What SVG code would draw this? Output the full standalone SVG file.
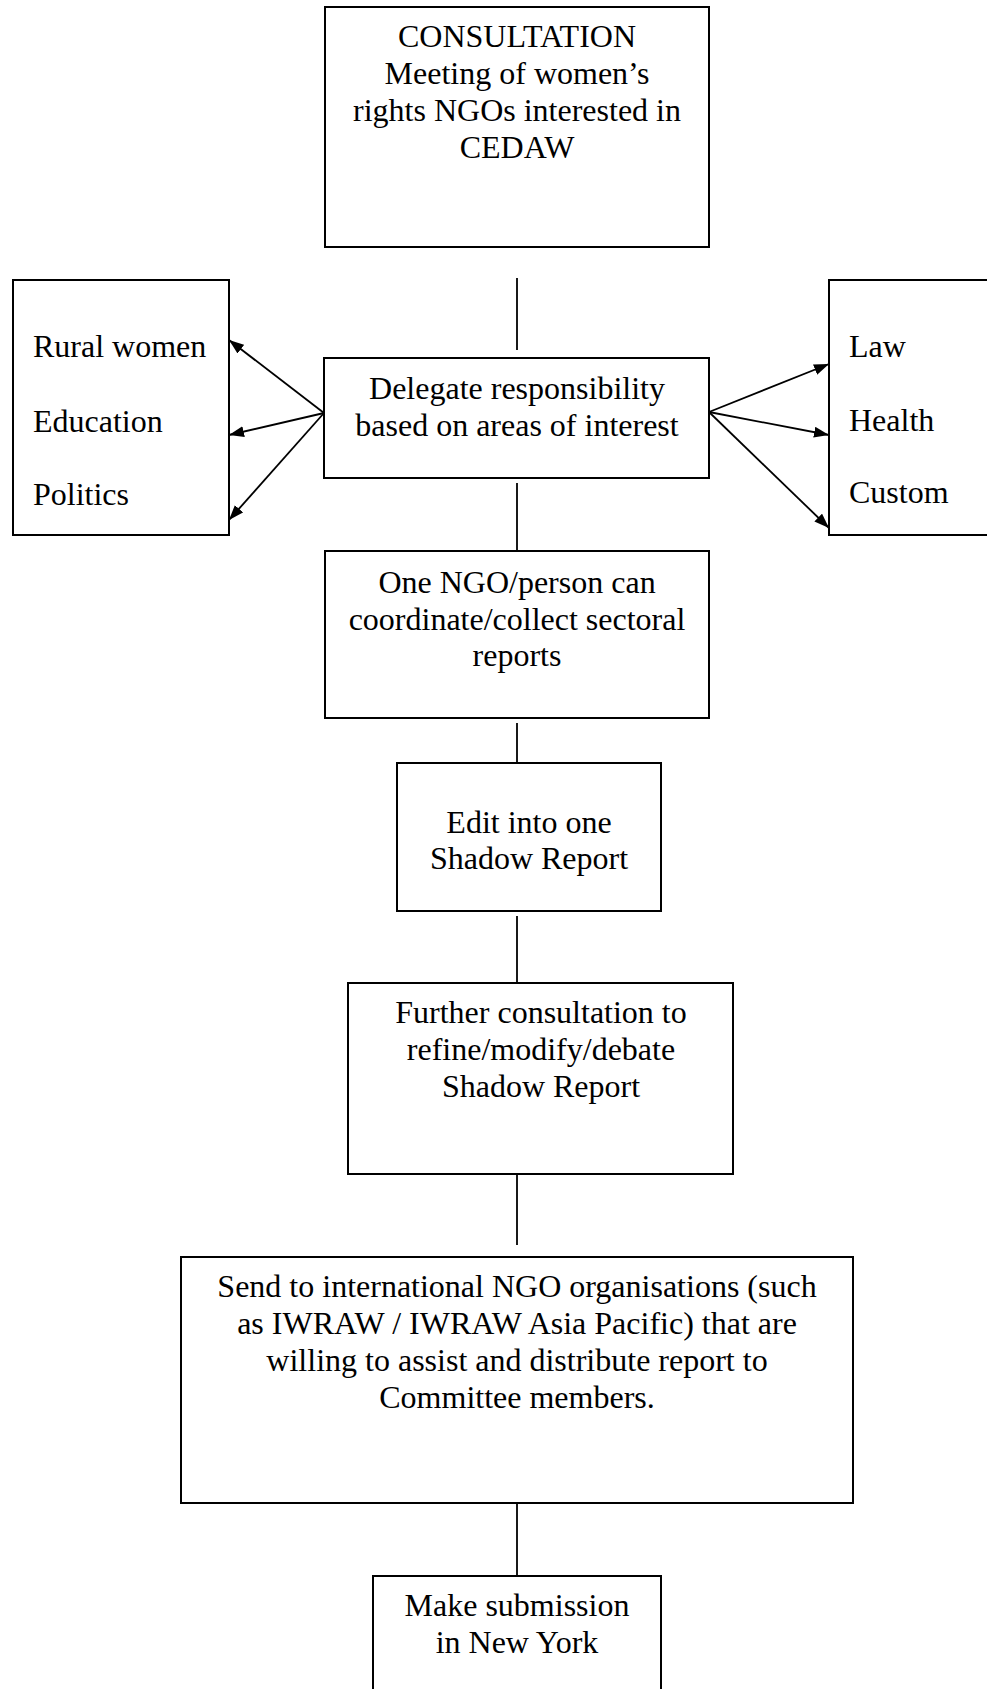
<svg xmlns="http://www.w3.org/2000/svg" width="987" height="1689" viewBox="0 0 987 1689">
<style>
.box{fill:#fff;stroke:#000;stroke-width:2}
.t{font-family:"Liberation Serif","Times New Roman",serif;font-size:32px;fill:#000}
.c{text-anchor:middle}
.ln{stroke:#000;stroke-width:1.8;fill:none}
</style>
<defs>
<marker id="ah" markerUnits="userSpaceOnUse" markerWidth="16" markerHeight="12" refX="15" refY="5.5" orient="auto">
<path d="M0,0 L15,5.5 L0,11 z" fill="#000"/>
</marker>
</defs>
<rect width="987" height="1689" fill="#fff"/>
<g id="connectors">
<line class="ln" x1="517" y1="278" x2="517" y2="350"/>
<line class="ln" x1="517" y1="483" x2="517" y2="551"/>
<line class="ln" x1="517" y1="723" x2="517" y2="763"/>
<line class="ln" x1="517" y1="916" x2="517" y2="983"/>
<line class="ln" x1="517" y1="1174" x2="517" y2="1245"/>
<line class="ln" x1="517" y1="1503" x2="517" y2="1576"/>
<line class="ln" x1="324" y1="413" x2="229" y2="340" marker-end="url(#ah)"/>
<line class="ln" x1="324" y1="413" x2="229" y2="435" marker-end="url(#ah)"/>
<line class="ln" x1="324" y1="413" x2="229" y2="520" marker-end="url(#ah)"/>
<line class="ln" x1="709" y1="412" x2="829" y2="364" marker-end="url(#ah)"/>
<line class="ln" x1="709" y1="412" x2="829" y2="435" marker-end="url(#ah)"/>
<line class="ln" x1="709" y1="412" x2="829" y2="528" marker-end="url(#ah)"/>
</g>
<g id="consultation">
<rect class="box" x="325" y="7" width="384" height="240"/>
<text class="t c" x="517" y="47">CONSULTATION</text>
<text class="t c" x="517" y="84">Meeting of women’s</text>
<text class="t c" x="517" y="121">rights NGOs interested in</text>
<text class="t c" x="517" y="158">CEDAW</text>
</g>
<g id="delegate">
<rect class="box" x="324" y="358" width="385" height="120"/>
<text class="t c" x="517" y="399">Delegate responsibility</text>
<text class="t c" x="517" y="436">based on areas of interest</text>
</g>
<g id="left-areas">
<rect class="box" x="13" y="280" width="216" height="255"/>
<text class="t" x="33" y="357">Rural women</text>
<text class="t" x="33" y="432">Education</text>
<text class="t" x="33" y="505">Politics</text>
</g>
<g id="right-areas">
<rect class="box" x="829" y="280" width="170" height="255"/>
<text class="t" x="849" y="357">Law</text>
<text class="t" x="849" y="431">Health</text>
<text class="t" x="849" y="503">Custom</text>
</g>
<g id="coordinate">
<rect class="box" x="325" y="551" width="384" height="167"/>
<text class="t c" x="517" y="593">One NGO/person can</text>
<text class="t c" x="517" y="630">coordinate/collect sectoral</text>
<text class="t c" x="517" y="666">reports</text>
</g>
<g id="edit">
<rect class="box" x="397" y="763" width="264" height="148"/>
<text class="t c" x="529" y="833">Edit into one</text>
<text class="t c" x="529" y="869">Shadow Report</text>
</g>
<g id="further">
<rect class="box" x="348" y="983" width="385" height="191"/>
<text class="t c" x="541" y="1023">Further consultation to</text>
<text class="t c" x="541" y="1060">refine/modify/debate</text>
<text class="t c" x="541" y="1097">Shadow Report</text>
</g>
<g id="send">
<rect class="box" x="181" y="1257" width="672" height="246"/>
<text class="t c" x="517" y="1297">Send to international NGO organisations (such</text>
<text class="t c" x="517" y="1334">as IWRAW / IWRAW Asia Pacific) that are</text>
<text class="t c" x="517" y="1371">willing to assist and distribute report to</text>
<text class="t c" x="517" y="1408">Committee members.</text>
</g>
<g id="submission">
<rect class="box" x="373" y="1576" width="288" height="130"/>
<text class="t c" x="517" y="1616">Make submission</text>
<text class="t c" x="517" y="1653">in New York</text>
</g>
</svg>
